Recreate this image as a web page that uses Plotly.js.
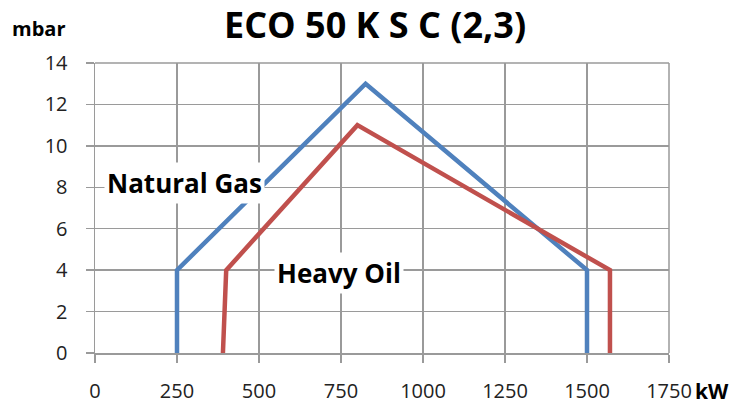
<!DOCTYPE html>
<html><head><meta charset="utf-8">
<script src="https://cdn.plot.ly/plotly-3.0.1.min.js"></script>
<style>html,body{margin:0;padding:0;background:#fff;}#chart{width:734px;height:407px;}</style>
</head><body><div id="chart"></div>
<script>
const gasX = [250, 250, 825, 1500, 1500];
const gasY = [0, 4, 13, 4, 0];
const oilX = [390, 400, 800, 1570, 1570];
const oilY = [0, 4, 11, 4, 0];
const xTicks = [0, 250, 500, 750, 1000, 1250, 1500, 1750];
const yTicks = [0, 2, 4, 6, 8, 10, 12, 14];

const font = "Open Sans, Liberation Sans, sans-serif";
const traces = [
  {x: gasX, y: gasY, mode: 'lines', line: {color: '#4F81BD', width: 4.5}, name: 'Natural Gas', hoverinfo: 'skip'},
  {x: oilX, y: oilY, mode: 'lines', line: {color: '#C0504D', width: 4.5}, name: 'Heavy Oil', hoverinfo: 'skip'}
];
const layout = {
  width: 734, height: 407,
  margin: {l: 95, r: 65, t: 63, b: 54},
  paper_bgcolor: '#fff', plot_bgcolor: '#fff',
  showlegend: false,
  title: {text: '<b>ECO 50 K S C (2,3)</b>', x: 0.511, xanchor: 'center', y: 0.937, yanchor: 'middle',
          font: {family: font, size: 36, color: '#000'}},
  xaxis: {range: [0, 1750], tickvals: xTicks, ticktext: xTicks.map(String),
          showgrid: true, gridcolor: '#9a9a9a', gridwidth: 1.5,
          showline: true, linecolor: '#9a9a9a', linewidth: 1.5,
          ticks: 'outside', ticklen: 8, tickcolor: '#9a9a9a', tickwidth: 1.5,
          ticklabelstandoff: 11, zeroline: false, mirror: false,
          tickfont: {family: font, size: 20, color: '#222'}, fixedrange: true},
  yaxis: {range: [0, 14], tickvals: yTicks, ticktext: yTicks.map(String),
          showgrid: true, gridcolor: '#9a9a9a', gridwidth: 1.5,
          showline: true, linecolor: '#9a9a9a', linewidth: 1.5,
          ticks: 'outside', ticklen: 8, tickcolor: '#9a9a9a', tickwidth: 1.5,
          ticklabelstandoff: 14, zeroline: false,
          tickfont: {family: font, size: 20, color: '#222'}, fixedrange: true},
  shapes: [
    {type: 'line', xref: 'paper', yref: 'paper', x0: 1, x1: 1, y0: 0, y1: 1, line: {color: '#9a9a9a', width: 1.5}},
    {type: 'line', xref: 'paper', yref: 'paper', x0: 0, x1: 1, y0: 1, y1: 1, line: {color: '#9a9a9a', width: 1.5}}
  ],
  annotations: [
    {text: '<b>Natural Gas</b>', xref: 'x', yref: 'y', x: 274, y: 8.2, showarrow: false,
     font: {family: font, size: 26, color: '#000'}, bgcolor: '#fff', borderpad: 2},
    {text: '<b>Heavy Oil</b>', xref: 'x', yref: 'y', x: 744, y: 3.85, showarrow: false,
     font: {family: font, size: 26, color: '#000'}, bgcolor: '#fff', borderpad: 2},
    {text: '<b>mbar</b>', xref: 'paper', yref: 'paper', x: -0.148, y: 1.12, xanchor: 'left', yanchor: 'middle', showarrow: false,
     font: {family: font, size: 20, color: '#000'}},
    {text: '<b>kW</b>', xref: 'paper', yref: 'paper', x: 1.0, y: -0.13, xanchor: 'left', yanchor: 'middle', showarrow: false, xshift: 24,
     font: {family: font, size: 21, color: '#000'}}
  ]
};
Plotly.newPlot('chart', traces, layout, {staticPlot: true, displayModeBar: false});
</script></body></html>
